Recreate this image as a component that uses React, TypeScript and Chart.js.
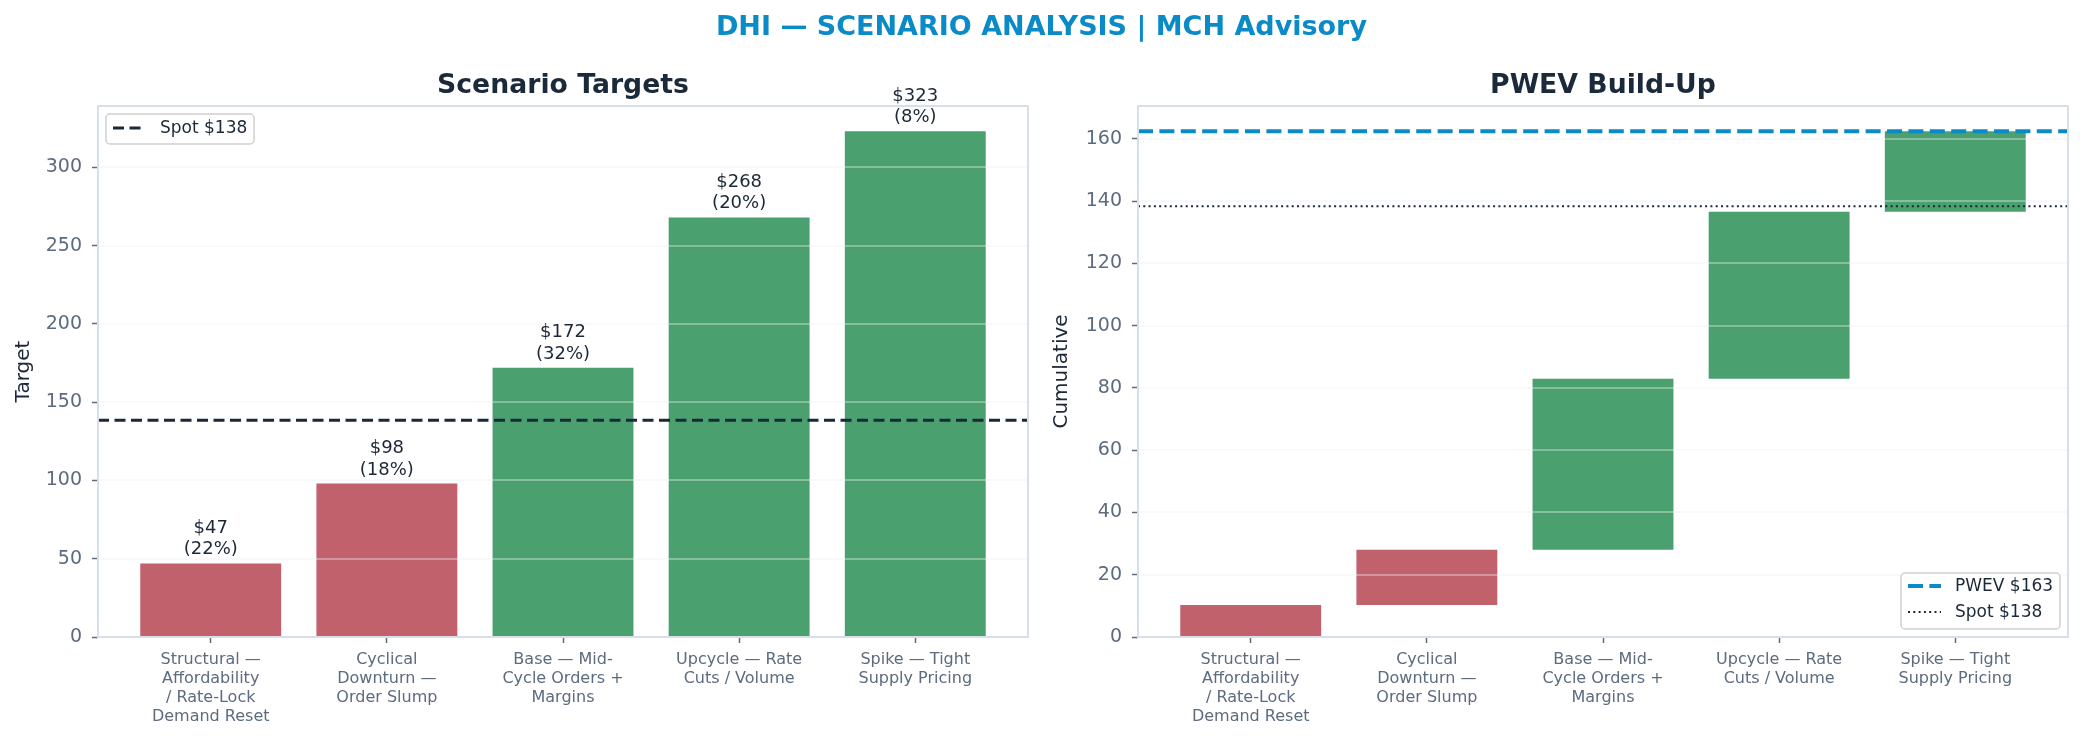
import React, { useEffect, useRef } from "react";
import { Chart, registerables } from "chart.js";
Chart.register(...registerables);

// ---------- data ----------
const scenarioLabels: string[][] = [
  ["Structural —", "Affordability", "/ Rate-Lock", "Demand Reset"],
  ["Cyclical", "Downturn —", "Order Slump"],
  ["Base — Mid-", "Cycle Orders +", "Margins"],
  ["Upcycle — Rate", "Cuts / Volume"],
  ["Spike — Tight", "Supply Pricing"],
];
const scenarioPositions = [0, 1, 2, 3, 4];
const targets = [47, 98, 172, 268, 323];
const probabilities = [22, 18, 32, 20, 8];
const spotPrice = 138.4;
const pwevValue = 162.5;
const waterfallStart = [0, 10.3, 28.0, 83.0, 136.6];
const waterfallEnd = [10.3, 28.0, 83.0, 136.6, 162.5];
const targetTicks = [0, 50, 100, 150, 200, 250, 300];
const cumulativeTicks = [0, 20, 40, 60, 80, 100, 120, 140, 160];
const xRange = [-0.64, 4.64];
const targetMax = 339.15;
const cumulativeMax = 170.6;

// ---------- styles ----------
const FONT = '"DejaVu Sans", sans-serif';
const RED = "#c1616c";
const GREEN = "#4aa06f";
const BLUE = "#0b8ac8";
const DARK = "#1b2838";
const TICK = "#5c6b7e";
const SPINE = "#d9dfe8";
const GRID = "rgba(235,238,242,0.38)";

const barColor = (i: number) => (targets[i] < spotPrice ? RED : GREEN);

function drawGrid(chart: any) {
  const { ctx, chartArea: a } = chart;
  const y = chart.scales.y;
  ctx.save();
  ctx.strokeStyle = GRID;
  ctx.lineWidth = 2;
  y.ticks.forEach((t: any) => {
    if (t.value === 0) return;
    const py = Math.round(y.getPixelForValue(t.value));
    ctx.beginPath();
    ctx.moveTo(a.left, py);
    ctx.lineTo(a.right, py);
    ctx.stroke();
  });
  ctx.restore();
}

function drawFrameAndTitle(chart: any, title: string) {
  const { ctx, chartArea: a } = chart;
  ctx.save();
  ctx.strokeStyle = SPINE;
  ctx.lineWidth = 2;
  ctx.strokeRect(a.left, a.top, a.right - a.left, a.bottom - a.top);
  ctx.font = `bold 26.7px ${FONT}`;
  ctx.fillStyle = "#1b2a3b";
  ctx.textAlign = "center";
  ctx.textBaseline = "alphabetic";
  ctx.fillText(title, (a.left + a.right) / 2, 93);
  ctx.restore();
}

type LegendItem = { label: string; color: string; width: number; dash: number[] };

function drawLegend(ctx: CanvasRenderingContext2D, x: number, y: number, w: number, h: number, items: LegendItem[], rowStart: number, rowGap: number, sampleLen: number) {
  ctx.save();
  ctx.beginPath();
  (ctx as any).roundRect(x, y, w, h, 4);
  ctx.fillStyle = "rgba(255,255,255,0.85)";
  ctx.fill();
  ctx.strokeStyle = "#d0d0d0";
  ctx.lineWidth = 1.5;
  ctx.stroke();
  items.forEach((it, k) => {
    const ly = y + rowStart + k * rowGap;
    ctx.beginPath();
    ctx.setLineDash(it.dash);
    ctx.strokeStyle = it.color;
    ctx.lineWidth = it.width;
    ctx.moveTo(x + 7, ly);
    ctx.lineTo(x + 7 + sampleLen, ly);
    ctx.stroke();
    ctx.setLineDash([]);
    ctx.font = `17px ${FONT}`;
    ctx.fillStyle = DARK;
    ctx.textAlign = "left";
    ctx.textBaseline = "middle";
    ctx.fillText(it.label, x + 54, ly + 1);
  });
  ctx.restore();
}

function scales(yMax: number, yTicks: number[], yTitle: string, yWidth: number, titlePad: number) {
  const tickGrid = {
    display: true,
    drawOnChartArea: false,
    drawTicks: true,
    offset: false,
    tickLength: 6,
    tickColor: TICK,
    tickWidth: 1.5,
    color: "transparent",
  };
  return {
    x: {
      type: "linear",
      min: xRange[0],
      max: xRange[1],
      offset: false,
      afterBuildTicks: (s: any) => {
        s.ticks = scenarioPositions.map((v) => ({ value: v }));
      },
      afterFit: (s: any) => {
        s.height = 105;
      },
      ticks: {
        autoSkip: false,
        maxRotation: 0,
        minRotation: 0,
        padding: 7,
        color: TICK,
        font: { family: FONT, size: 16, lineHeight: 1.2 },
        callback: (v: any) => scenarioLabels[Math.round(v)] ?? "",
      },
      grid: tickGrid,
      border: { display: false },
    },
    y: {
      type: "linear",
      min: 0,
      max: yMax,
      afterBuildTicks: (s: any) => {
        s.ticks = yTicks.map((v) => ({ value: v }));
      },
      afterFit: (s: any) => {
        s.width = yWidth;
      },
      ticks: {
        padding: 10,
        color: TICK,
        font: { family: FONT, size: 19 },
        callback: (v: any) => String(v),
      },
      grid: tickGrid,
      border: { display: false },
      title: {
        display: true,
        text: yTitle,
        color: DARK,
        font: { family: FONT, size: 20, lineHeight: 1.2 },
        padding: { top: titlePad, bottom: 0 },
      },
    },
  };
}

function leftConfig(): any {
  const plugin = {
    id: "leftDecor",
    afterDatasetDraw(chart: any, args: any) {
      if (args.index === 0) drawGrid(chart);
    },
    afterDatasetsDraw(chart: any) {
      const { ctx } = chart;
      const meta = chart.getDatasetMeta(0);
      ctx.save();
      ctx.font = `18px ${FONT}`;
      ctx.fillStyle = DARK;
      ctx.textAlign = "center";
      ctx.textBaseline = "alphabetic";
      meta.data.forEach((el: any, i: number) => {
        ctx.fillText(`$${targets[i]}`, el.x, el.y - 30.5);
        ctx.fillText(`(${probabilities[i]}%)`, el.x, el.y - 9);
      });
      ctx.restore();
    },
    afterDraw(chart: any) {
      drawFrameAndTitle(chart, "Scenario Targets");
      const a = chart.chartArea;
      drawLegend(chart.ctx, a.left + 8, a.top + 8, 148, 30, [
        { label: `Spot $${Math.round(spotPrice)}`, color: DARK, width: 3, dash: [11, 5.5] },
      ], 14, 0, 29);
    },
  };
  return {
    type: "bar",
    data: {
      datasets: [
        {
          type: "bar",
          order: 2,
          data: targets.map((v, i) => ({ x: scenarioPositions[i], y: v })),
          backgroundColor: targets.map((_, i) => barColor(i)),
          borderWidth: 0,
          categoryPercentage: 1,
          barPercentage: 0.8,
        },
        {
          type: "line",
          order: 1,
          data: [
            { x: xRange[0], y: spotPrice },
            { x: xRange[1], y: spotPrice },
          ],
          borderColor: DARK,
          borderWidth: 3,
          borderDash: [11, 5.5],
          pointRadius: 0,
          fill: false,
        },
      ],
    },
    options: {
      responsive: false,
      animation: false,
      events: [],
      layout: { padding: { left: 0, right: 12, top: 106, bottom: 0 } },
      plugins: { legend: { display: false }, title: { display: false }, tooltip: { enabled: false } },
      scales: scales(targetMax, targetTicks, "Target", 98, 12),
    },
    plugins: [plugin],
  };
}

function rightConfig(): any {
  const plugin = {
    id: "rightDecor",
    afterDatasetDraw(chart: any, args: any) {
      if (args.index === 0) drawGrid(chart);
    },
    afterDraw(chart: any) {
      drawFrameAndTitle(chart, "PWEV Build-Up");
      const a = chart.chartArea;
      const w = 159;
      const h = 56;
      drawLegend(chart.ctx, a.right - 8 - w, a.bottom - 8 - h, w, h, [
        { label: `PWEV $${Math.round(pwevValue)}`, color: BLUE, width: 4, dash: [15, 6.4] },
        { label: `Spot $${Math.round(spotPrice)}`, color: DARK, width: 2, dash: [2, 3.3] },
      ], 13, 26, 33);
    },
  };
  return {
    type: "bar",
    data: {
      datasets: [
        {
          type: "bar",
          order: 3,
          data: waterfallStart.map((s, i) => ({ x: scenarioPositions[i], y: [s, waterfallEnd[i]] })),
          backgroundColor: targets.map((_, i) => barColor(i)),
          borderWidth: 0,
          categoryPercentage: 1,
          barPercentage: 0.8,
        },
        {
          type: "line",
          order: 1,
          data: [
            { x: xRange[0], y: pwevValue },
            { x: xRange[1], y: pwevValue },
          ],
          borderColor: BLUE,
          borderWidth: 4,
          borderDash: [15, 6.4],
          pointRadius: 0,
          fill: false,
        },
        {
          type: "line",
          order: 2,
          data: [
            { x: xRange[0], y: spotPrice },
            { x: xRange[1], y: spotPrice },
          ],
          borderColor: DARK,
          borderWidth: 2,
          borderDash: [2, 3.3],
          pointRadius: 0,
          fill: false,
        },
      ],
    },
    options: {
      responsive: false,
      animation: false,
      events: [],
      layout: { padding: { left: 0, right: 15, top: 106, bottom: 0 } },
      plugins: { legend: { display: false }, title: { display: false }, tooltip: { enabled: false } },
      scales: scales(cumulativeMax, cumulativeTicks, "Cumulative", 98, 10),
    },
    plugins: [plugin],
  };
}

export default function App() {
  const leftRef = useRef<HTMLCanvasElement>(null);
  const rightRef = useRef<HTMLCanvasElement>(null);
  useEffect(() => {
    document.body.style.margin = "0";
    const c1 = new Chart(leftRef.current as HTMLCanvasElement, leftConfig());
    const c2 = new Chart(rightRef.current as HTMLCanvasElement, rightConfig());
    return () => {
      c1.destroy();
      c2.destroy();
    };
  }, []);
  return (
    <div style={{ position: "fixed", left: 0, top: 0, width: 2083, height: 742, background: "#ffffff", overflow: "hidden" }}>
      <canvas ref={leftRef} width={1040} height={742} style={{ position: "absolute", left: 0, top: 0, width: 1040, height: 742 }} />
      <canvas ref={rightRef} width={1043} height={742} style={{ position: "absolute", left: 1040, top: 0, width: 1043, height: 742 }} />
      <div
        style={{
          position: "absolute",
          left: 0,
          top: 10,
          width: 2083,
          textAlign: "center",
          fontFamily: FONT,
          fontWeight: "bold",
          fontSize: 27,
          lineHeight: "32px",
          color: BLUE,
          pointerEvents: "none",
        }}
      >
        DHI — SCENARIO ANALYSIS | MCH Advisory
      </div>
    </div>
  );
}
